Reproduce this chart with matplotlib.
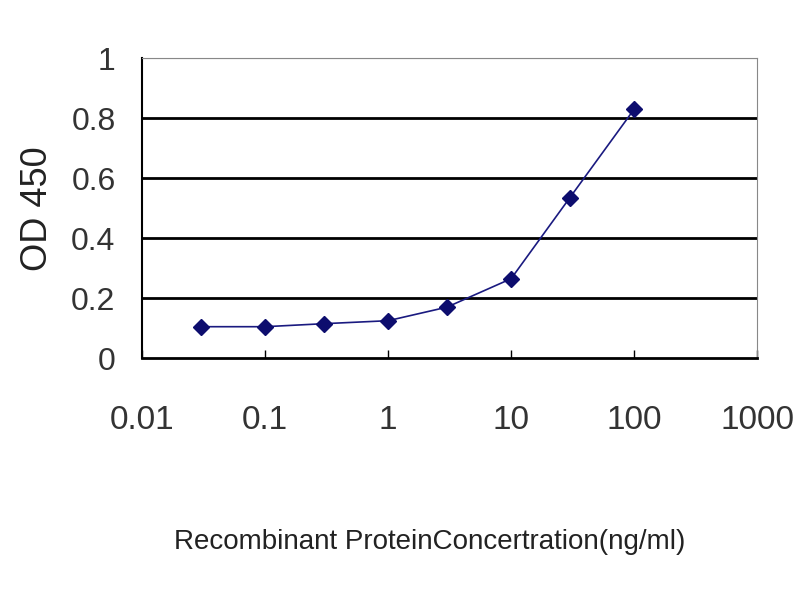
import matplotlib
matplotlib.use('Agg')
import matplotlib.pyplot as plt

# Concentration series and measured OD
concentration = [0.03, 0.1, 0.3, 1, 3, 10, 30, 100]
od_450 = [0.105, 0.105, 0.115, 0.125, 0.17, 0.265, 0.535, 0.83]

x_ticks = [0.01, 0.1, 1, 10, 100, 1000]
x_tick_labels = ['0.01', '0.1', '1', '10', '100', '1000']
y_ticks = [0, 0.2, 0.4, 0.6, 0.8, 1]
y_tick_labels = ['0', '0.2', '0.4', '0.6', '0.8', '1']

plt.rcParams['font.family'] = ['Liberation Sans', 'DejaVu Sans']

fig = plt.figure(figsize=(8, 6), dpi=100)
ax = fig.add_axes([0.1775, 0.403, 0.769, 0.5])

# horizontal gridlines
for y in y_ticks[1:-1]:
    ax.axhline(y, color='black', linewidth=2, zorder=1)
ax.axhline(1, color='#888888', linewidth=1.5, zorder=1)

ax.plot(concentration, od_450, color='#1a1a80', linewidth=1.2,
        marker='D', markersize=8, markerfacecolor='#0d0d6e',
        markeredgecolor='#0d0d6e', zorder=3)

ax.set_xscale('log')
ax.set_xlim(0.01, 1000)
ax.set_ylim(0, 1)
ax.set_xticks(x_ticks)
ax.set_xticklabels(x_tick_labels)
ax.minorticks_off()
ax.set_yticks(y_ticks)
ax.set_yticklabels(y_tick_labels)

ax.tick_params(axis='x', direction='in', length=6, width=1, pad=34,
               labelsize=24, colors='black', labelcolor='#333333')
ax.tick_params(axis='y', length=0, pad=19, labelsize=23, labelcolor='#333333')

ax.spines['left'].set_linewidth(1.5)
ax.spines['bottom'].set_linewidth(2)
ax.spines['right'].set_color('#888888')
ax.spines['top'].set_color('#888888')

ax.set_xlabel('Recombinant ProteinConcertration(ng/ml)', fontsize=20,
              color='#222222')
ax.xaxis.set_label_coords(0.468, -0.57)
ax.set_ylabel('OD 450', fontsize=26, color='#222222', labelpad=12)

fig.savefig('out.png', dpi=100)
